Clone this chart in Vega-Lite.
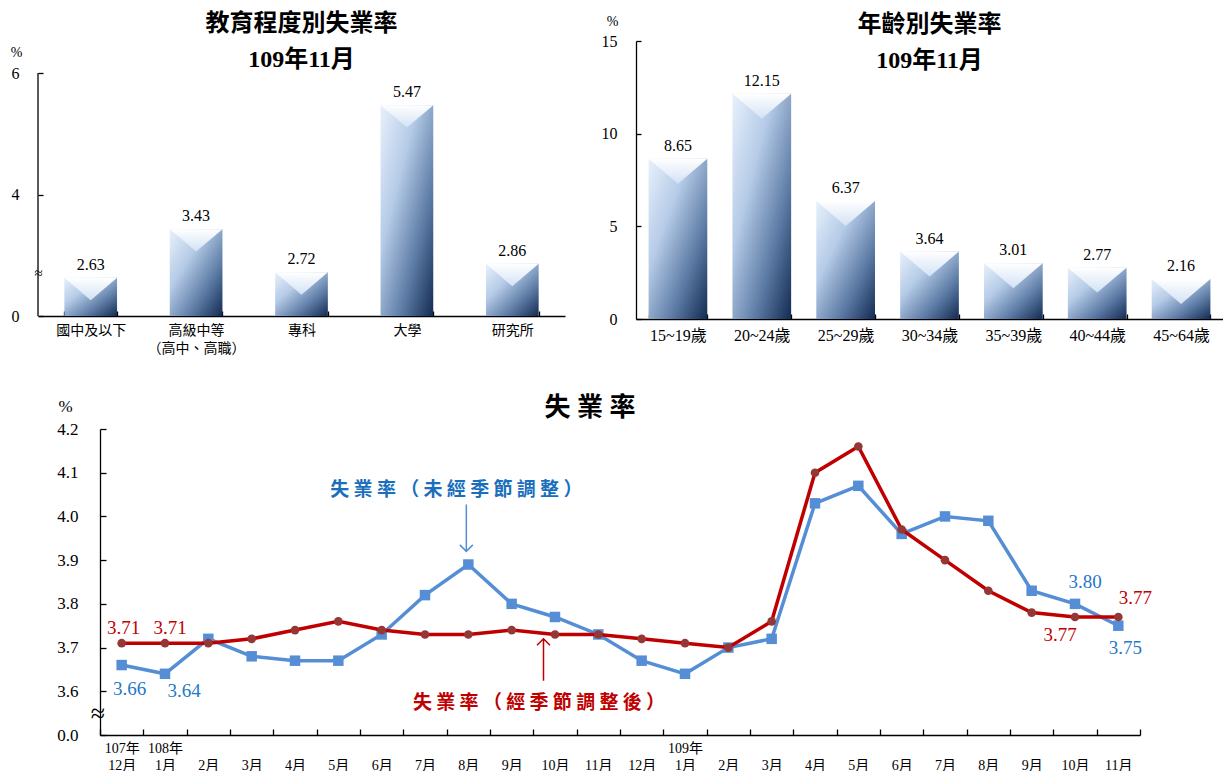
{
  "$schema": "https://vega.github.io/schema/vega-lite/v6.json",
  "background": "white",
  "padding": {"left": 5, "top": 12, "right": 0, "bottom": 0},
  "config": {
    "view": {"stroke": null},
    "font": "Liberation Serif, Noto Sans CJK TC",
    "axis": {"grid": false, "domainColor": "#000000", "domainWidth": 1.3, "tickColor": "#000000", "tickWidth": 1.3, "labelColor": "#000000", "titleColor": "#000000", "labelFont": "Liberation Serif, Noto Sans CJK TC", "titleFont": "Liberation Serif, Noto Sans CJK TC", "titleFontWeight": "normal", "labelOverlap": false},
    "title": {"color": "#000000", "font": "Liberation Serif, Noto Sans CJK TC", "fontWeight": "bold"}
  },
  "datasets": {
    "edu": [
      {"level": "國中及以下", "rate": 2.63},
      {"level": "高級中等|（高中、高職）", "rate": 3.43},
      {"level": "專科", "rate": 2.72},
      {"level": "大學", "rate": 5.47},
      {"level": "研究所", "rate": 2.86}
    ],
    "age": [
      {"age": "15~19歲", "rate": 8.65},
      {"age": "20~24歲", "rate": 12.15},
      {"age": "25~29歲", "rate": 6.37},
      {"age": "30~34歲", "rate": 3.64},
      {"age": "35~39歲", "rate": 3.01},
      {"age": "40~44歲", "rate": 2.77},
      {"age": "45~64歲", "rate": 2.16}
    ],
    "ts": [
      {"month": "107-12", "series": "未經季節調整", "rate": 3.66},
      {"month": "108-01", "series": "未經季節調整", "rate": 3.64},
      {"month": "108-02", "series": "未經季節調整", "rate": 3.72},
      {"month": "108-03", "series": "未經季節調整", "rate": 3.68},
      {"month": "108-04", "series": "未經季節調整", "rate": 3.67},
      {"month": "108-05", "series": "未經季節調整", "rate": 3.67},
      {"month": "108-06", "series": "未經季節調整", "rate": 3.73},
      {"month": "108-07", "series": "未經季節調整", "rate": 3.82},
      {"month": "108-08", "series": "未經季節調整", "rate": 3.89},
      {"month": "108-09", "series": "未經季節調整", "rate": 3.80},
      {"month": "108-10", "series": "未經季節調整", "rate": 3.77},
      {"month": "108-11", "series": "未經季節調整", "rate": 3.73},
      {"month": "108-12", "series": "未經季節調整", "rate": 3.67},
      {"month": "109-01", "series": "未經季節調整", "rate": 3.64},
      {"month": "109-02", "series": "未經季節調整", "rate": 3.70},
      {"month": "109-03", "series": "未經季節調整", "rate": 3.72},
      {"month": "109-04", "series": "未經季節調整", "rate": 4.03},
      {"month": "109-05", "series": "未經季節調整", "rate": 4.07},
      {"month": "109-06", "series": "未經季節調整", "rate": 3.96},
      {"month": "109-07", "series": "未經季節調整", "rate": 4.00},
      {"month": "109-08", "series": "未經季節調整", "rate": 3.99},
      {"month": "109-09", "series": "未經季節調整", "rate": 3.83},
      {"month": "109-10", "series": "未經季節調整", "rate": 3.80},
      {"month": "109-11", "series": "未經季節調整", "rate": 3.75},
      {"month": "107-12", "series": "經季節調整後", "rate": 3.71},
      {"month": "108-01", "series": "經季節調整後", "rate": 3.71},
      {"month": "108-02", "series": "經季節調整後", "rate": 3.71},
      {"month": "108-03", "series": "經季節調整後", "rate": 3.72},
      {"month": "108-04", "series": "經季節調整後", "rate": 3.74},
      {"month": "108-05", "series": "經季節調整後", "rate": 3.76},
      {"month": "108-06", "series": "經季節調整後", "rate": 3.74},
      {"month": "108-07", "series": "經季節調整後", "rate": 3.73},
      {"month": "108-08", "series": "經季節調整後", "rate": 3.73},
      {"month": "108-09", "series": "經季節調整後", "rate": 3.74},
      {"month": "108-10", "series": "經季節調整後", "rate": 3.73},
      {"month": "108-11", "series": "經季節調整後", "rate": 3.73},
      {"month": "108-12", "series": "經季節調整後", "rate": 3.72},
      {"month": "109-01", "series": "經季節調整後", "rate": 3.71},
      {"month": "109-02", "series": "經季節調整後", "rate": 3.70},
      {"month": "109-03", "series": "經季節調整後", "rate": 3.76},
      {"month": "109-04", "series": "經季節調整後", "rate": 4.10},
      {"month": "109-05", "series": "經季節調整後", "rate": 4.16},
      {"month": "109-06", "series": "經季節調整後", "rate": 3.97},
      {"month": "109-07", "series": "經季節調整後", "rate": 3.90},
      {"month": "109-08", "series": "經季節調整後", "rate": 3.83},
      {"month": "109-09", "series": "經季節調整後", "rate": 3.78},
      {"month": "109-10", "series": "經季節調整後", "rate": 3.77},
      {"month": "109-11", "series": "經季節調整後", "rate": 3.77}
    ]
  },
  "spacing": 40,
  "vconcat": [
    {
      "spacing": 31,
      "hconcat": [
        {
          "width": 527,
          "height": 275,
          "title": {"text": ["教育程度別失業率", "109年11月"], "fontSize": 24, "lineHeight": 36, "frame": "group", "anchor": "middle", "offset": 0, "dy": 31},
          "data": {"name": "edu"},
          "encoding": {
            "x": {
              "field": "level", "type": "nominal", "sort": null,
              "scale": {"type": "band", "paddingInner": 0.5, "paddingOuter": 0.25, "domain": ["國中及以下", "高級中等|（高中、高職）", "專科", "大學", "研究所"]},
              "axis": {"title": null, "labelAngle": 0, "tickBand": "extent", "tickSize": -5, "labelPadding": 12, "labelBaseline": "top", "labelFontSize": 14, "labelFont": "Noto Sans CJK TC", "labelLineHeight": 18, "labelExpr": "isString(datum.label) ? split(datum.label, '|') : ''"}
            },
            "y": {
              "field": "rate", "type": "quantitative",
              "scale": {"domain": [2, 6.527], "zero": false, "nice": false},
              "axis": {
                "title": "%", "titleAngle": 0, "titleAlign": "center", "titleBaseline": "middle", "titleX": -22, "titleY": 11, "titleFontSize": 14,
                "domain": false, "values": [2, 2.72, 4, 6], "tickSize": -5, "minExtent": 33, "labelBaseline": "middle",
                "labelExpr": "datum.value == 2 ? '0' : (datum.value < 3 ? '≈' : format(datum.value, '.0f'))",
                "labelFontSize": {"condition": {"test": "datum.value > 2 && datum.value < 3", "value": 15}, "value": 16},
                "labelAlign": {"condition": {"test": "datum.value > 2 && datum.value < 3", "value": "center"}, "value": "right"},
                "labelPadding": {"condition": {"test": "datum.value > 2 && datum.value < 3", "value": 5}, "value": 24},
                "tickOpacity": {"condition": {"test": "datum.value > 2 && datum.value < 3", "value": 0}, "value": 1}
              }
            }
          },
          "layer": [
            {
              "mark": {"type": "bar", "fill": {"gradient": "linear", "x1": 0, "y1": 0, "x2": 1, "y2": 1, "stops": [{"offset": 0, "color": "#e8f1fc"}, {"offset": 0.35, "color": "#b5cbe7"}, {"offset": 0.7, "color": "#5a79a3"}, {"offset": 1, "color": "#132b52"}]}},
              "encoding": {"y2": {"datum": 2}}
            },
            {
              "mark": {"type": "point", "shape": "M-1,0L1,0L0,0.85Z", "size": 2777, "filled": true, "opacity": 1, "strokeWidth": 0, "fill": {"gradient": "linear", "x1": 0, "y1": 0, "x2": 0, "y2": 1, "stops": [{"offset": 0, "color": "#ffffff"}, {"offset": 1, "color": "#d3e2f5"}]}}
            },
            {
              "mark": {"type": "text", "baseline": "alphabetic", "dy": -8, "fontSize": 16, "font": "Liberation Serif", "color": "#000000"},
              "encoding": {"text": {"field": "rate", "format": ".2f"}}
            },
            {
              "data": {"values": [{"level": "國中及以下", "rate": 2}]},
              "mark": {"type": "point", "shape": "M-5.27,0L-5.27,-24.3", "size": 400, "filled": false, "opacity": 1, "stroke": "#000000", "strokeWidth": 1.3}
            }
          ]
        },
        {
          "width": 587,
          "height": 278,
          "title": {"text": ["年齡別失業率", "109年11月"], "fontSize": 24, "lineHeight": 36, "frame": "group", "anchor": "middle", "offset": 0, "dy": 59},
          "data": {"name": "age"},
          "encoding": {
            "x": {
              "field": "age", "type": "nominal", "sort": null,
              "scale": {"type": "band", "paddingInner": 0.3, "paddingOuter": 0.15, "domain": ["15~19歲", "20~24歲", "25~29歲", "30~34歲", "35~39歲", "40~44歲", "45~64歲"]},
              "axis": {"title": null, "labelAngle": 0, "tickBand": "extent", "tickSize": -5, "labelPadding": 13, "labelBaseline": "top", "labelFontSize": 16}
            },
            "y": {
              "field": "rate", "type": "quantitative",
              "scale": {"domain": [0, 15], "nice": false},
              "axis": {
                "title": "%", "titleAngle": 0, "titleAlign": "center", "titleBaseline": "middle", "titleX": -24, "titleY": -20, "titleFontSize": 14,
                "values": [0, 5, 10, 15], "tickSize": -5, "minExtent": 40, "labelBaseline": "middle", "labelFontSize": 16, "labelPadding": 24
              }
            }
          },
          "layer": [
            {
              "mark": {"type": "bar", "fill": {"gradient": "linear", "x1": 0, "y1": 0, "x2": 1, "y2": 1, "stops": [{"offset": 0, "color": "#e8f1fc"}, {"offset": 0.35, "color": "#b5cbe7"}, {"offset": 0.7, "color": "#5a79a3"}, {"offset": 1, "color": "#132b52"}]}}
            },
            {
              "mark": {"type": "point", "shape": "M-1,0L1,0L0,0.85Z", "size": 3446, "filled": true, "opacity": 1, "strokeWidth": 0, "fill": {"gradient": "linear", "x1": 0, "y1": 0, "x2": 0, "y2": 1, "stops": [{"offset": 0, "color": "#ffffff"}, {"offset": 1, "color": "#d3e2f5"}]}}
            },
            {
              "mark": {"type": "text", "baseline": "alphabetic", "dy": -8, "fontSize": 16, "font": "Liberation Serif", "color": "#000000"},
              "encoding": {"text": {"field": "rate", "format": ".2f"}}
            }
          ]
        }
      ]
    },
    {
      "spacing": 11,
      "hconcat": [
        {
          "width": 1,
          "height": 1,
          "data": {"values": [{"spacer": 1}]},
          "mark": {"type": "point", "opacity": 0, "size": 0},
          "encoding": {}
        },
        {
          "width": 1040,
          "height": 306,
          "title": {"text": "失 業 率", "fontSize": 26, "frame": "group", "anchor": "middle", "offset": 0, "dy": 24, "dx": -30},
          "data": {"name": "ts"},
          "encoding": {
            "x": {
              "field": "month", "type": "nominal", "sort": null,
              "scale": {"type": "band", "paddingInner": 0, "paddingOuter": 0, "domain": ["107-12", "108-01", "108-02", "108-03", "108-04", "108-05", "108-06", "108-07", "108-08", "108-09", "108-10", "108-11", "108-12", "109-01", "109-02", "109-03", "109-04", "109-05", "109-06", "109-07", "109-08", "109-09", "109-10", "109-11"]},
              "axis": {"title": null, "labelAngle": 0, "tickBand": "extent", "tickSize": -6, "labelPadding": 12, "labelBaseline": "top", "labelFontSize": 14, "labelLineHeight": 17, "labelExpr": "(isString(datum.value) && length(datum.value) == 6) ? [(datum.value == '107-12' || substring(datum.value, 4) == '01') ? substring(datum.value, 0, 3) + '年' : '', toNumber(substring(datum.value, 4)) + '月'] : ''"}
            },
            "y": {
              "field": "rate", "type": "quantitative",
              "scale": {"domain": [3.5, 4.2], "zero": false, "nice": false},
              "axis": {
                "title": "%", "titleAngle": 0, "titleAlign": "center", "titleBaseline": "middle", "titleX": -35, "titleY": -23, "titleFontSize": 17,
                "values": [3.5, 3.55, 3.6, 3.7, 3.8, 3.9, 4.0, 4.1, 4.2], "tickSize": -6, "minExtent": 50, "labelBaseline": "middle",
                "labelExpr": "abs(datum.value - 3.5) < 0.001 ? '0.0' : (abs(datum.value - 3.55) < 0.001 ? '≈' : format(datum.value, '.1f'))",
                "labelFontSize": {"condition": {"test": "abs(datum.value - 3.55) < 0.001", "value": 26}, "value": 17},
                "labelAlign": {"condition": {"test": "abs(datum.value - 3.55) < 0.001", "value": "center"}, "value": "right"},
                "labelPadding": {"condition": {"test": "abs(datum.value - 3.55) < 0.001", "value": 8.5}, "value": 28},
                "tickOpacity": {"condition": {"test": "abs(datum.value - 3.55) < 0.001", "value": 0}, "value": 1}
              }
            }
          },
          "layer": [
            {
              "transform": [{"filter": "datum.series == '未經季節調整'"}],
              "mark": {"type": "line", "color": "#558ed5", "strokeWidth": 3.5}
            },
            {
              "transform": [{"filter": "datum.series == '未經季節調整'"}],
              "mark": {"type": "point", "shape": "square", "filled": true, "opacity": 1, "size": 110, "color": "#558ed5"}
            },
            {
              "transform": [{"filter": "datum.series == '經季節調整後'"}],
              "mark": {"type": "line", "color": "#c00000", "strokeWidth": 3.5}
            },
            {
              "transform": [{"filter": "datum.series == '經季節調整後'"}],
              "mark": {"type": "point", "shape": "circle", "filled": true, "opacity": 1, "size": 75, "color": "#953735"}
            },
            {
              "transform": [{"filter": "datum.month == '107-12' && datum.series == '經季節調整後'"}],
              "mark": {"type": "text", "color": "#c00000", "fontSize": 19, "font": "Liberation Serif", "baseline": "middle", "dx": 2, "dy": -15},
              "encoding": {"text": {"field": "rate", "format": ".2f"}}
            },
            {
              "transform": [{"filter": "datum.month == '108-01' && datum.series == '經季節調整後'"}],
              "mark": {"type": "text", "color": "#c00000", "fontSize": 19, "font": "Liberation Serif", "baseline": "middle", "dx": 5, "dy": -15},
              "encoding": {"text": {"field": "rate", "format": ".2f"}}
            },
            {
              "transform": [{"filter": "datum.month == '107-12' && datum.series == '未經季節調整'"}],
              "mark": {"type": "text", "color": "#1f78c8", "fontSize": 19, "font": "Liberation Serif", "baseline": "middle", "dx": 8, "dy": 24},
              "encoding": {"text": {"field": "rate", "format": ".2f"}}
            },
            {
              "transform": [{"filter": "datum.month == '108-01' && datum.series == '未經季節調整'"}],
              "mark": {"type": "text", "color": "#1f78c8", "fontSize": 19, "font": "Liberation Serif", "baseline": "middle", "dx": 19, "dy": 17},
              "encoding": {"text": {"field": "rate", "format": ".2f"}}
            },
            {
              "transform": [{"filter": "datum.month == '109-10' && datum.series == '未經季節調整'"}],
              "mark": {"type": "text", "color": "#1f78c8", "fontSize": 19, "font": "Liberation Serif", "baseline": "middle", "dx": 10, "dy": -22},
              "encoding": {"text": {"field": "rate", "format": ".2f"}}
            },
            {
              "transform": [{"filter": "datum.month == '109-11' && datum.series == '經季節調整後'"}],
              "mark": {"type": "text", "color": "#c00000", "fontSize": 19, "font": "Liberation Serif", "baseline": "middle", "dx": 17, "dy": -19},
              "encoding": {"text": {"field": "rate", "format": ".2f"}}
            },
            {
              "transform": [{"filter": "datum.month == '109-10' && datum.series == '經季節調整後'"}],
              "mark": {"type": "text", "color": "#c00000", "fontSize": 19, "font": "Liberation Serif", "baseline": "middle", "dx": -15, "dy": 18},
              "encoding": {"text": {"field": "rate", "format": ".2f"}}
            },
            {
              "transform": [{"filter": "datum.month == '109-11' && datum.series == '未經季節調整'"}],
              "mark": {"type": "text", "color": "#1f78c8", "fontSize": 19, "font": "Liberation Serif", "baseline": "middle", "dx": 7, "dy": 22},
              "encoding": {"text": {"field": "rate", "format": ".2f"}}
            },
            {
              "data": {"values": [{"month": "108-08", "rate": 4.06, "note": "失 業 率 （ 未 經 季 節 調 整 ）"}]},
              "mark": {"type": "text", "color": "#1a6fbd", "fontSize": 19, "fontWeight": "bold", "font": "Noto Sans CJK TC", "baseline": "middle", "align": "center", "dx": -12},
              "encoding": {"text": {"field": "note"}}
            },
            {
              "data": {"values": [{"month": "108-08", "rate": 3.92}]},
              "mark": {"type": "point", "shape": "M-0.2,0L-0.2,-4.7M-0.85,-0.65L-0.2,0L0.45,-0.65", "size": 400, "filled": false, "opacity": 1, "stroke": "#558ed5", "strokeWidth": 1.5}
            },
            {
              "data": {"values": [{"month": "108-10", "rate": 3.573, "note": "失 業 率 （ 經 季 節 調 整 後 ）"}]},
              "mark": {"type": "text", "color": "#c00000", "fontSize": 19, "fontWeight": "bold", "font": "Noto Sans CJK TC", "baseline": "middle", "align": "center", "dx": -16},
              "encoding": {"text": {"field": "note"}}
            },
            {
              "data": {"values": [{"month": "108-10", "rate": 3.72}]},
              "mark": {"type": "point", "shape": "M-1.15,0L-1.15,4.2M-1.8,0.65L-1.15,0L-0.5,0.65", "size": 400, "filled": false, "opacity": 1, "stroke": "#c00000", "strokeWidth": 1.5}
            }
          ]
        }
      ]
    }
  ]
}
